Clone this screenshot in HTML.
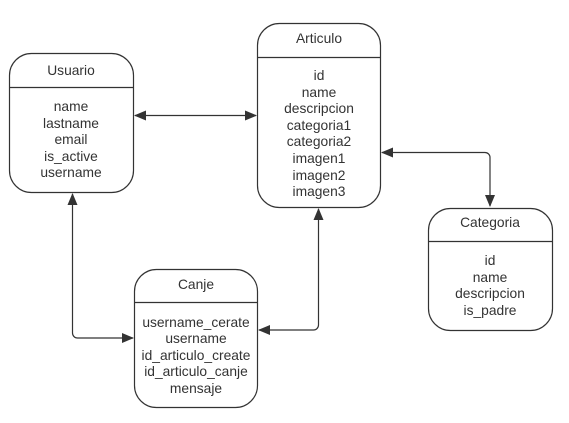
<!DOCTYPE html>
<html><head><style>
body{margin:0;background:#fff;}
svg{display:block;font-family:"Liberation Sans",sans-serif;}
text{font-size:13.8px;fill:#333;text-anchor:middle;}
</style></head><body>
<svg width="569" height="423" viewBox="0 0 569 423">
<defs><marker id="a" markerWidth="12" markerHeight="10" refX="11" refY="5" orient="auto-start-reverse" markerUnits="userSpaceOnUse"><path d="M0,0 L12,5 L0,10 z" fill="#333"/></marker></defs>
<g fill="none" stroke="#333" stroke-width="1.2">
<rect x="9.5" y="53.5" width="124" height="139" rx="22"/><line x1="9.5" y1="87.5" x2="133.5" y2="87.5"/>
<rect x="257.5" y="23.5" width="123" height="184" rx="22"/><line x1="257.5" y1="57.5" x2="380.5" y2="57.5"/>
<rect x="428.5" y="208.5" width="124" height="122" rx="22"/><line x1="428.5" y1="241.5" x2="552.5" y2="241.5"/>
<rect x="134.5" y="269.5" width="123" height="138" rx="22"/><line x1="134.5" y1="302.5" x2="257.5" y2="302.5"/>
<path d="M135,115.5 H256" marker-start="url(#a)" marker-end="url(#a)"/>
<path d="M72.5,194 V333 a5,5 0 0 0 5,5 H133" marker-start="url(#a)" marker-end="url(#a)"/>
<path d="M318.5,209 V325 a5,5 0 0 1 -5,5 H259" marker-start="url(#a)" marker-end="url(#a)"/>
<path d="M382,152.5 H485 a5,5 0 0 1 5,5 V206" marker-start="url(#a)" marker-end="url(#a)"/>
</g>
<text x="71" y="75">Usuario</text>
<text x="71" y="111">name</text><text x="71" y="128">lastname</text><text x="71" y="144">email</text><text x="71" y="161">is_active</text><text x="71" y="177">username</text>
<text x="319" y="43">Articulo</text>
<text x="319" y="80">id</text><text x="319" y="97">name</text><text x="319" y="113">descripcion</text><text x="319" y="130">categoria1</text><text x="319" y="146">categoria2</text><text x="319" y="163">imagen1</text><text x="319" y="180">imagen2</text><text x="319" y="196">imagen3</text>
<text x="490" y="227">Categoria</text>
<text x="490" y="265">id</text><text x="490" y="282">name</text><text x="490" y="298">descripcion</text><text x="490" y="315">is_padre</text>
<text x="196" y="289">Canje</text>
<text x="196" y="327">username_cerate</text><text x="196" y="343">username</text><text x="196" y="360">id_articulo_create</text><text x="196" y="376">id_articulo_canje</text><text x="196" y="393">mensaje</text>
</svg>
</body></html>
